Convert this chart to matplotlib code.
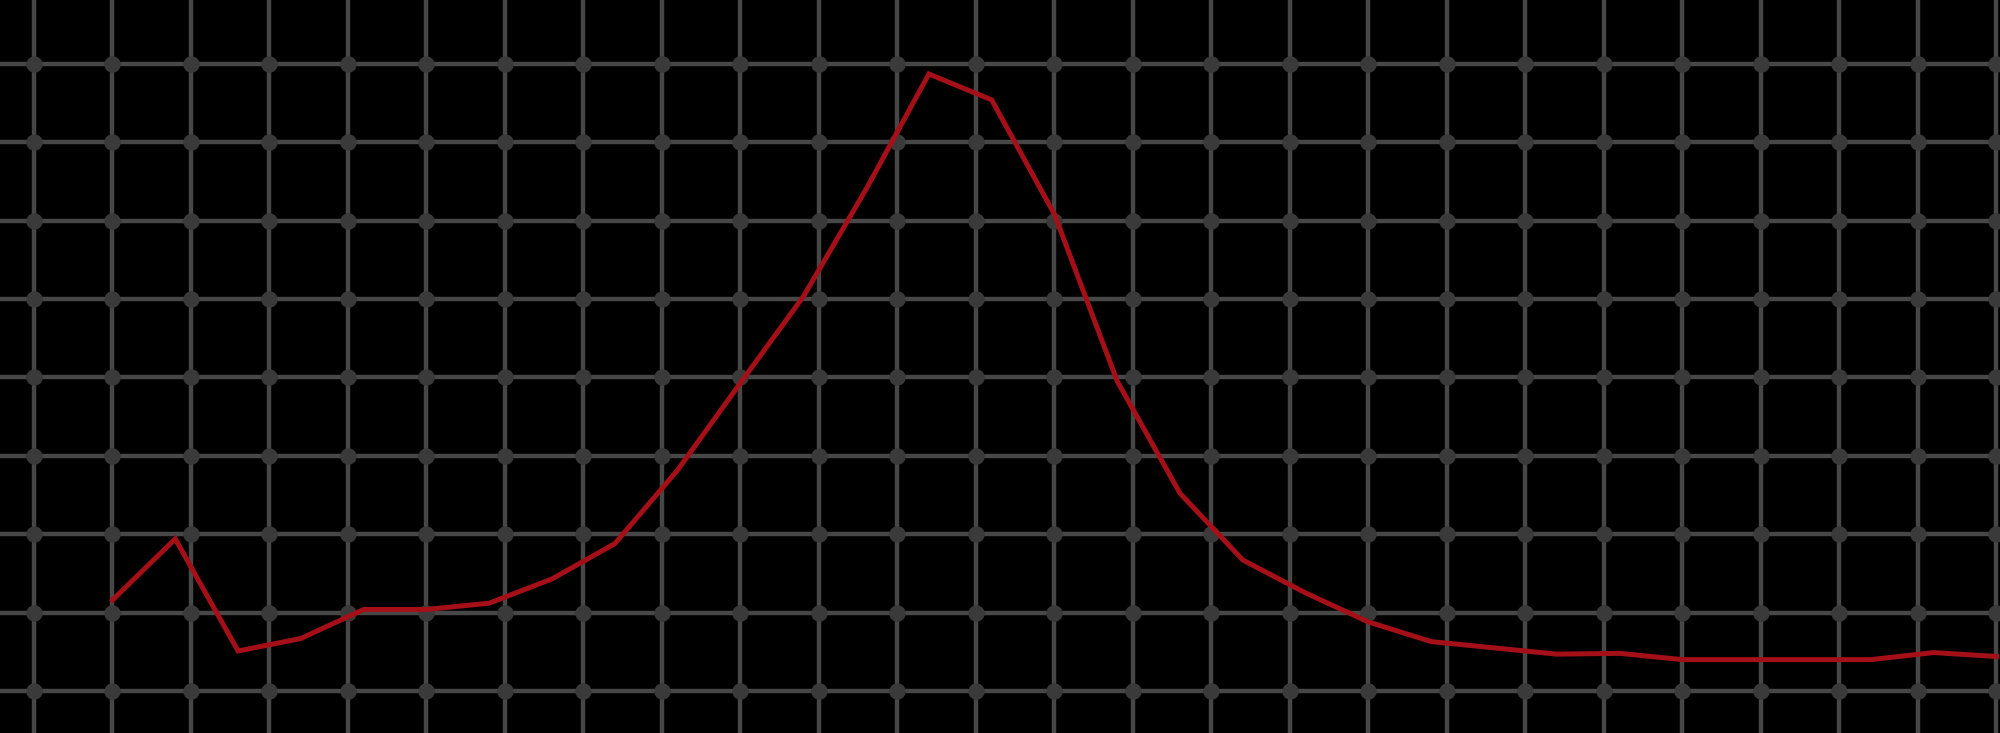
import numpy as np
import matplotlib.pyplot as plt

# valores (una muestra por paso)
steps = list(range(31))
values = [11.6, 19.4, 5.1, 6.7, 10.4, 10.4, 11.2, 14.3, 18.8, 28.2,
          39.3, 50.3, 64.0, 78.7, 75.4, 60.8, 39.5, 25.2, 16.7, 12.5,
          8.8, 6.3, 5.5, 4.7, 4.8, 4.0, 4.0, 4.0, 4.0, 4.9, 4.4]

# rejilla: una celda cada 1.25 pasos en x, cada 10 unidades en y
grid_x = np.arange(-1, 25) * 1.25
grid_y = np.arange(0, 90, 10)

grid_color = "#474747"
dot_color = "#3a3a3a"
line_color = "#a50f18"

fig = plt.figure(figsize=(20, 7.33), dpi=100, facecolor="black")
ax = fig.add_axes([0, 0, 1, 1])
ax.set_facecolor("black")

for gx in grid_x:
    ax.axvline(gx, color=grid_color, lw=3.2, zorder=1)
for gy in grid_y:
    ax.axhline(gy, color=grid_color, lw=3.2, zorder=1)

xx, yy = np.meshgrid(grid_x, grid_y)
ax.scatter(xx.ravel(), yy.ravel(), s=140, color=dot_color, linewidths=0, zorder=2)

ax.plot(steps, values, color=line_color, lw=3.6, solid_joinstyle="miter",
        solid_capstyle="projecting", zorder=3)

ax.set_xlim(-1.791, 30.056)
ax.set_ylim(-5.36, 88.14)
ax.axis("off")

fig.savefig("out.png", dpi=100, facecolor="black")
